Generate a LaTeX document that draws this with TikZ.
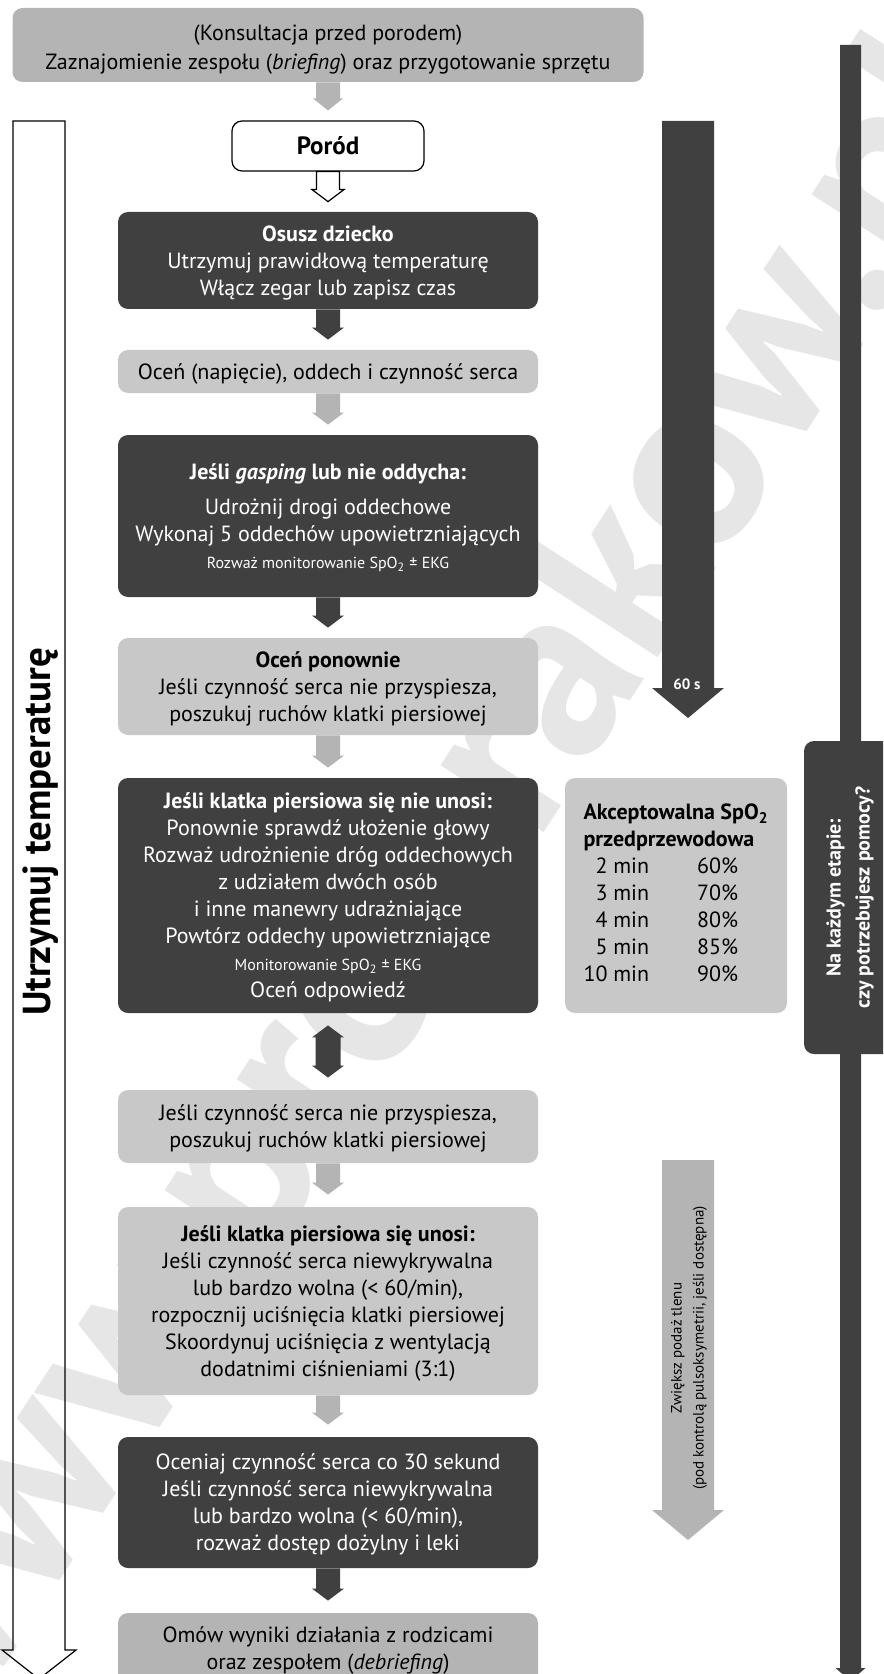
\documentclass[tikz,border=0pt]{standalone}
\usepackage{fontspec}
\setmainfont{PT Sans}
\usetikzlibrary{calc}
\definecolor{dk}{HTML}{404040}
\definecolor{lt}{HTML}{C8C8C8}
\definecolor{md}{HTML}{B4B4B4}
\definecolor{wm}{HTML}{E6E6E6}
\newcommand\blkarrow[6]{%
  \path[#1] ($(#2)+(-#4,0)$) -- ($(#3)+(-#4,-#6)$) -- ($(#3)+(-#5,-#6)$) -- (#3)
    -- ($(#3)+(#5,-#6)$) -- ($(#3)+(#4,-#6)$) -- ($(#2)+(#4,0)$) -- cycle;}
\newcommand\dblblkarrow[6]{%
  \path[#1] (#2) -- ($(#2)+(#5,#6)$) -- ($(#2)+(#4,#6)$) -- ($(#3)+(#4,-#6)$)
    -- ($(#3)+(#5,-#6)$) -- (#3) -- ($(#3)+(-#5,-#6)$) -- ($(#3)+(-#4,-#6)$)
    -- ($(#2)+(-#4,#6)$) -- ($(#2)+(-#5,#6)$) -- cycle;}
\tikzset{
  boxbase/.style={rounded corners=5pt, inner sep=0pt, align=center,
    font=\fontsize{11}{13.5}\selectfont},
  box/.style={boxbase, minimum width=210pt, text depth=0pt},
  darkbox/.style={box, fill=dk, text=white},
  lightbox/.style={box, fill=lt, text=black},
  grayarrow/.style={fill=md},
  darkarrow/.style={fill=dk},
  whitearrow/.style={fill=white, draw=black, line width=0.6pt, line join=miter},
  boxtext/.style={inner sep=0pt, align=center, font=\fontsize{11}{14.5}\selectfont}
}
\newcommand\sm[1]{{\fontsize{8}{10}\selectfont #1}}
\begin{document}
\begin{tikzpicture}[x=0.5pt,y=-0.5pt]
\useasboundingbox (0,0) rectangle (883,1674);
\clip (0,0) rectangle (883,1674);
% watermark
\node[rotate=57, anchor=base west, text=wm, inner sep=0pt,
  font=\bfseries\fontsize{123}{123}\selectfont] (wmark) at (-61,1765) {www.prc.krakow.pl};

% main column
\node[box, fill=md, minimum width=315.5pt, minimum height=37pt] (top) at (328,45) {};
\node[boxtext] (toptext) at (328,50)
  {(Konsultacja przed porodem)\\Zaznajomienie zespołu (\textit{briefing}) oraz przygotowanie sprzętu};
\node[box, fill=white, draw=black, line width=0.6pt, minimum width=96pt, minimum height=25pt,
  font=\bfseries\fontsize{12.5}{15}\selectfont] (porod) at (328,146)
  {Poród};
\node[darkbox, minimum height=48.5pt] (osusz) at (328,260.5)
  {\textbf{Osusz dziecko}\\Utrzymuj prawidłową temperaturę\\Włącz zegar lub zapisz czas};
\node[lightbox, minimum height=21.5pt] (ocen1) at (328,371.5)
  {Oceń (napięcie), oddech i czynność serca};
\node[darkbox, minimum height=81pt] (gasp) at (328,516)
  {\textbf{Jeśli \textit{gasping} lub nie oddycha:}\\[4pt]Udrożnij drogi oddechowe\\Wykonaj 5 oddechów upowietrzniających\\\sm{Rozważ monitorowanie SpO\textsubscript{2} ± EKG}};
\node[lightbox, minimum height=48.5pt] (ocen2) at (328,686.5)
  {\textbf{Oceń ponownie}\\Jeśli czynność serca nie przyspiesza,\\poszukuj ruchów klatki piersiowej};
\node[darkbox, minimum height=117.5pt] (nieunosi) at (328,895.5)
  {\textbf{Jeśli klatka piersiowa się nie unosi:}\\Ponownie sprawdź ułożenie głowy\\Rozważ udrożnienie dróg oddechowych\\z udziałem dwóch osób\\i inne manewry udrażniające\\Powtórz oddechy upowietrzniające\\\sm{Monitorowanie SpO\textsubscript{2} ± EKG}\\Oceń odpowiedź};
\node[lightbox, minimum height=36.5pt] (czyn) at (328,1126.5)
  {Jeśli czynność serca nie przyspiesza,\\poszukuj ruchów klatki piersiowej};
\node[lightbox, minimum height=94pt] (unosi) at (328,1301)
  {\textbf{Jeśli klatka piersiowa się unosi:}\\Jeśli czynność serca niewykrywalna\\lub bardzo wolna (< 60/min),\\rozpocznij uciśnięcia klatki piersiowej\\Skoordynuj uciśnięcia z wentylacją\\dodatnimi ciśnieniami (3:1)};
\node[darkbox, minimum height=65.5pt] (oceniaj) at (328,1502.5)
  {Oceniaj czynność serca co 30 sekund\\Jeśli czynność serca niewykrywalna\\lub bardzo wolna (< 60/min),\\rozważ dostęp dożylny i leki};
\node[box, fill=md, minimum height=35.5pt] (omow) at (328,1648.5)
  {Omów wyniki działania z rodzicami\\oraz zespołem (\textit{debriefing})};

% connectors of the main column
\coordinate (t1) at ($(porod.north)+(0,-10)$);
\coordinate (t2) at ($(osusz.north)+(0,-10)$);
\coordinate (t3) at ($(ocen1.north)+(0,-10)$);
\coordinate (t4) at ($(gasp.north)+(0,-10)$);
\coordinate (t5) at ($(ocen2.north)+(0,-10)$);
\coordinate (t6) at ($(nieunosi.north)+(0,-10)$);
\coordinate (t7) at ($(unosi.north)+(0,-12)$);
\coordinate (t8) at ($(oceniaj.north)+(0,-12)$);
\coordinate (t9) at ($(omow.north)+(0,-12)$);
\blkarrow{grayarrow}{top.south}{t1}{12}{15}{12}
\blkarrow{whitearrow}{porod.south}{t2}{11.5}{16}{12}
\blkarrow{darkarrow}{osusz.south}{t3}{12}{16}{12}
\blkarrow{grayarrow}{ocen1.south}{t4}{12}{16}{12}
\blkarrow{darkarrow}{gasp.south}{t5}{12}{16}{12}
\blkarrow{grayarrow}{ocen2.south}{t6}{12}{16}{12}
\blkarrow{grayarrow}{czyn.south}{t7}{12}{16}{12}
\blkarrow{grayarrow}{unosi.south}{t8}{12}{16}{12}
\blkarrow{darkarrow}{oceniaj.south}{t9}{12}{16}{12}
\coordinate (d1) at ($(nieunosi.south)+(0,12)$);
\coordinate (d2) at ($(czyn.north)+(0,-12)$);
\dblblkarrow{darkarrow}{d1}{d2}{12.5}{16}{12}

% SpO2 table
\node[boxbase, fill=lt, minimum width=111pt, minimum height=117.5pt] (spo) at (676,895.5)
  {\begin{tabular}{@{}r@{\hspace{24pt}}l@{}}
    \multicolumn{2}{@{}l@{}}{\textbf{Akceptowalna SpO\textsubscript{2}}}\\
    \multicolumn{2}{@{}l@{}}{\textbf{przedprzewodowa}}\\
    2 min & 60\%\\ 3 min & 70\%\\ 4 min & 80\%\\ 5 min & 85\%\\ 10 min & 90\%
   \end{tabular}};

% 60 s arrow
\coordinate (s60top) at (688,121);
\coordinate (s60tip) at (688,718);
\blkarrow{darkarrow}{s60top}{s60tip}{26}{36}{30}
\node[text=white, font=\bfseries\fontsize{7.5}{9}\selectfont] (s60) at (687,684) {60 s};

% oxygen arrow
\coordinate (zwtop) at (688,1160);
\coordinate (zwtip) at (688,1540);
\blkarrow{grayarrow}{zwtop}{zwtip}{26}{36}{30}
\node[rotate=90, align=center, font=\fontsize{7.5}{11}\selectfont] (zw) at (689,1348)
  {Zwiększ podaż tlenu\\(pod kontrolą pulsoksymetrii, jeśli dostępna)};

% help column
\coordinate (hctop) at (850.5,45);
\coordinate (hctip) at (850.5,1681);
\blkarrow{darkarrow}{hctop}{hctip}{10.5}{15}{13}
\node[rotate=90, fill=dk, text=white, rounded corners=5pt, inner sep=0pt, align=center,
  minimum width=156.5pt, minimum height=46pt, font=\bfseries\fontsize{10}{14.5}\selectfont] (help) at (850,897.5)
  {Na każdym etapie:\\czy potrzebujesz pomocy?};

% left temperature arrow
\coordinate (ltop) at (39,121);
\coordinate (ltip) at (39,1679);
\blkarrow{draw=black, line width=0.6pt, line join=miter}{ltop}{ltip}{26}{37}{29}
\node[rotate=90, font=\bfseries\fontsize{19.5}{22}\selectfont] (temp) at (41,832) {Utrzymuj temperaturę};
\end{tikzpicture}
\end{document}
